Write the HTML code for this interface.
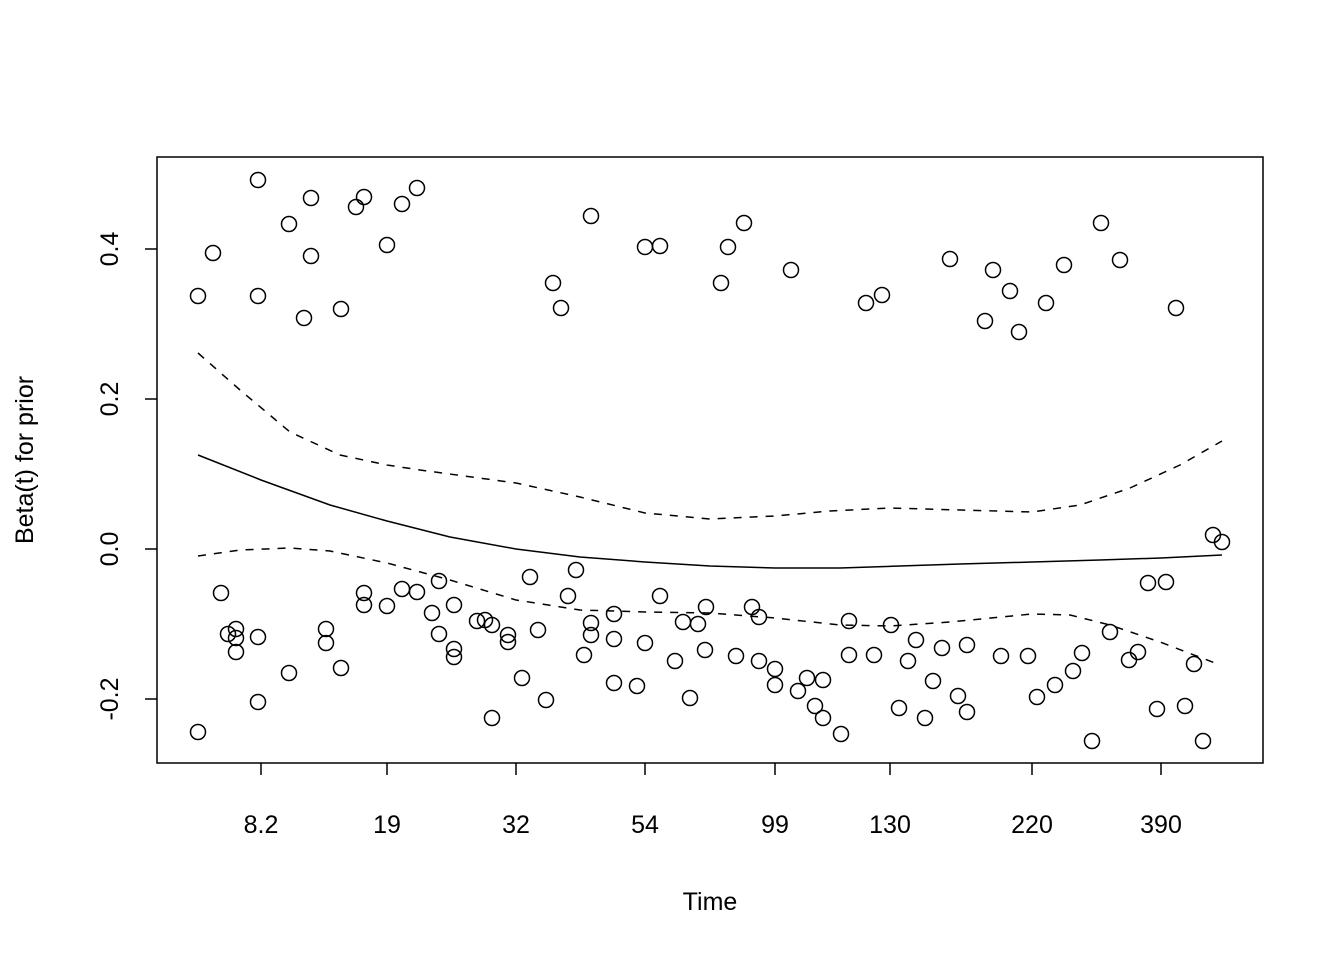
<!DOCTYPE html>
<html><head><style>body{margin:0;background:#fff}svg{display:block}text{font-family:"Liberation Sans",sans-serif;font-size:25px;fill:#000}</style></head><body>
<svg width="1344" height="960" xmlns="http://www.w3.org/2000/svg">
<rect x="157" y="157" width="1106" height="606" fill="none" stroke="#000" stroke-width="1.5"/>
<g stroke="#000" stroke-width="1.5">
<line x1="261" y1="763" x2="261" y2="775"/><line x1="387" y1="763" x2="387" y2="775"/><line x1="516" y1="763" x2="516" y2="775"/><line x1="645" y1="763" x2="645" y2="775"/><line x1="775" y1="763" x2="775" y2="775"/><line x1="890" y1="763" x2="890" y2="775"/><line x1="1032" y1="763" x2="1032" y2="775"/><line x1="1161" y1="763" x2="1161" y2="775"/>
<line x1="157" y1="249" x2="145" y2="249"/><line x1="157" y1="399" x2="145" y2="399"/><line x1="157" y1="549" x2="145" y2="549"/><line x1="157" y1="699" x2="145" y2="699"/>
</g>
<g text-anchor="middle">
<text x="261" y="833">8.2</text><text x="387" y="833">19</text><text x="516" y="833">32</text><text x="645" y="833">54</text><text x="775" y="833">99</text><text x="890" y="833">130</text><text x="1032" y="833">220</text><text x="1161" y="833">390</text>
<text x="710" y="910">Time</text>
<text transform="translate(118,249) rotate(-90)">0.4</text>
<text transform="translate(118,399) rotate(-90)">0.2</text>
<text transform="translate(118,549) rotate(-90)">0.0</text>
<text transform="translate(118,699) rotate(-90)">-0.2</text>
<text transform="translate(33,460) rotate(-90)">Beta(t) for prior</text>
</g>
<g fill="none" stroke="#000" stroke-width="1.5" stroke-linejoin="round">
<polyline points="198,455 261,480 330,505 387,521 450,537 516,549 580,557 645,562 710,566 775,568 840,568 900,566 960,564 1032,562 1100,560 1161,558 1222,555"/>
<polyline stroke-dasharray="8,8" points="198,353 240,390 290,432 340,455 387,465 420,470 516,483 580,497 645,513 710,519 775,516 830,511 890,508 960,510 1032,512 1080,505 1130,488 1180,465 1222,441"/>
<polyline stroke-dasharray="8,8" points="198,556 240,550 290,548 330,551 387,563 450,580 516,600 580,610 645,612 710,613 775,618 840,625 890,626 950,622 1032,614 1070,615 1110,625 1160,642 1215,663"/>
</g>
<g fill="none" stroke="#000" stroke-width="1.5">
<circle cx="198" cy="296" r="7.5"/><circle cx="213" cy="253" r="7.5"/><circle cx="258" cy="180" r="7.5"/><circle cx="258" cy="296" r="7.5"/><circle cx="289" cy="224" r="7.5"/><circle cx="304" cy="318" r="7.5"/><circle cx="311" cy="198" r="7.5"/><circle cx="311" cy="256" r="7.5"/><circle cx="341" cy="309" r="7.5"/><circle cx="356" cy="207" r="7.5"/><circle cx="364" cy="197" r="7.5"/><circle cx="387" cy="245" r="7.5"/><circle cx="402" cy="204" r="7.5"/><circle cx="417" cy="188" r="7.5"/><circle cx="553" cy="283" r="7.5"/><circle cx="561" cy="308" r="7.5"/><circle cx="591" cy="216" r="7.5"/><circle cx="645" cy="247" r="7.5"/><circle cx="660" cy="246" r="7.5"/><circle cx="721" cy="283" r="7.5"/><circle cx="728" cy="247" r="7.5"/><circle cx="744" cy="223" r="7.5"/><circle cx="791" cy="270" r="7.5"/><circle cx="866" cy="303" r="7.5"/><circle cx="882" cy="295" r="7.5"/><circle cx="950" cy="259" r="7.5"/><circle cx="985" cy="321" r="7.5"/><circle cx="993" cy="270" r="7.5"/><circle cx="1010" cy="291" r="7.5"/><circle cx="1019" cy="332" r="7.5"/><circle cx="1046" cy="303" r="7.5"/><circle cx="1064" cy="265" r="7.5"/><circle cx="1101" cy="223" r="7.5"/><circle cx="1120" cy="260" r="7.5"/><circle cx="1176" cy="308" r="7.5"/>
<circle cx="198" cy="732" r="7.5"/><circle cx="221" cy="593" r="7.5"/><circle cx="228" cy="634" r="7.5"/><circle cx="236" cy="629" r="7.5"/><circle cx="236" cy="638" r="7.5"/><circle cx="236" cy="652" r="7.5"/><circle cx="258" cy="637" r="7.5"/><circle cx="258" cy="702" r="7.5"/><circle cx="289" cy="673" r="7.5"/><circle cx="326" cy="629" r="7.5"/><circle cx="326" cy="643" r="7.5"/><circle cx="341" cy="668" r="7.5"/><circle cx="364" cy="593" r="7.5"/><circle cx="364" cy="605" r="7.5"/><circle cx="387" cy="606" r="7.5"/><circle cx="402" cy="589" r="7.5"/><circle cx="417" cy="592" r="7.5"/><circle cx="432" cy="613" r="7.5"/><circle cx="439" cy="581" r="7.5"/><circle cx="439" cy="634" r="7.5"/><circle cx="454" cy="605" r="7.5"/><circle cx="454" cy="649" r="7.5"/><circle cx="454" cy="657" r="7.5"/><circle cx="477" cy="621" r="7.5"/><circle cx="485" cy="620" r="7.5"/><circle cx="492" cy="625" r="7.5"/><circle cx="492" cy="718" r="7.5"/><circle cx="508" cy="635" r="7.5"/><circle cx="508" cy="642" r="7.5"/><circle cx="522" cy="678" r="7.5"/><circle cx="530" cy="577" r="7.5"/><circle cx="538" cy="630" r="7.5"/><circle cx="546" cy="700" r="7.5"/><circle cx="568" cy="596" r="7.5"/><circle cx="576" cy="570" r="7.5"/><circle cx="584" cy="655" r="7.5"/><circle cx="591" cy="623" r="7.5"/><circle cx="591" cy="635" r="7.5"/><circle cx="614" cy="614" r="7.5"/><circle cx="614" cy="639" r="7.5"/><circle cx="614" cy="683" r="7.5"/><circle cx="637" cy="686" r="7.5"/><circle cx="645" cy="643" r="7.5"/><circle cx="660" cy="596" r="7.5"/><circle cx="675" cy="661" r="7.5"/><circle cx="683" cy="622" r="7.5"/><circle cx="690" cy="698" r="7.5"/><circle cx="698" cy="624" r="7.5"/><circle cx="705" cy="650" r="7.5"/><circle cx="706" cy="607" r="7.5"/><circle cx="736" cy="656" r="7.5"/><circle cx="752" cy="607" r="7.5"/><circle cx="759" cy="617" r="7.5"/><circle cx="759" cy="661" r="7.5"/><circle cx="775" cy="669" r="7.5"/><circle cx="775" cy="685" r="7.5"/><circle cx="798" cy="691" r="7.5"/><circle cx="807" cy="678" r="7.5"/><circle cx="815" cy="706" r="7.5"/><circle cx="823" cy="680" r="7.5"/><circle cx="823" cy="718" r="7.5"/><circle cx="841" cy="734" r="7.5"/><circle cx="849" cy="621" r="7.5"/><circle cx="849" cy="655" r="7.5"/><circle cx="874" cy="655" r="7.5"/><circle cx="891" cy="625" r="7.5"/><circle cx="899" cy="708" r="7.5"/><circle cx="908" cy="661" r="7.5"/><circle cx="916" cy="640" r="7.5"/><circle cx="925" cy="718" r="7.5"/><circle cx="933" cy="681" r="7.5"/><circle cx="942" cy="648" r="7.5"/><circle cx="958" cy="696" r="7.5"/><circle cx="967" cy="645" r="7.5"/><circle cx="967" cy="712" r="7.5"/><circle cx="1001" cy="656" r="7.5"/><circle cx="1028" cy="656" r="7.5"/><circle cx="1037" cy="697" r="7.5"/><circle cx="1055" cy="685" r="7.5"/><circle cx="1073" cy="671" r="7.5"/><circle cx="1082" cy="653" r="7.5"/><circle cx="1092" cy="741" r="7.5"/><circle cx="1110" cy="632" r="7.5"/><circle cx="1129" cy="660" r="7.5"/><circle cx="1138" cy="652" r="7.5"/><circle cx="1148" cy="583" r="7.5"/><circle cx="1157" cy="709" r="7.5"/><circle cx="1166" cy="582" r="7.5"/><circle cx="1185" cy="706" r="7.5"/><circle cx="1194" cy="664" r="7.5"/><circle cx="1203" cy="741" r="7.5"/><circle cx="1213" cy="535" r="7.5"/><circle cx="1222" cy="542" r="7.5"/>
</g>
</svg>
</body></html>
